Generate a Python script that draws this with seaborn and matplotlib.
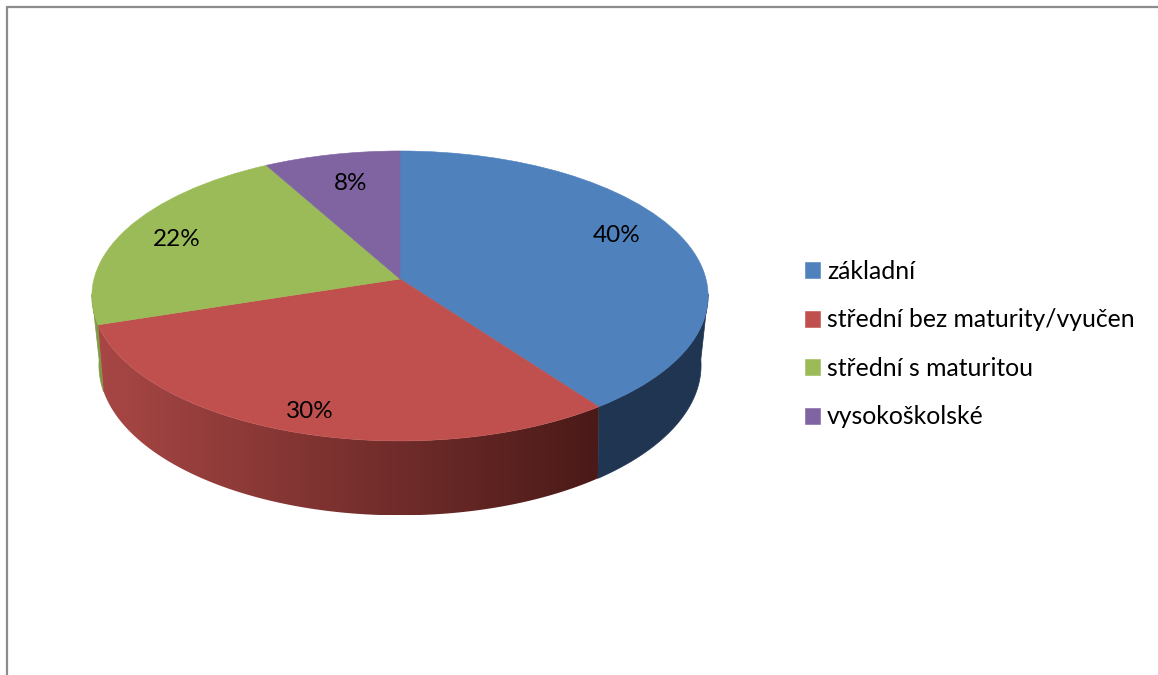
import numpy as np
import matplotlib
matplotlib.use("Agg")
import matplotlib.pyplot as plt
from matplotlib.patches import Polygon
from matplotlib.transforms import Transform
from matplotlib.colors import to_rgb
import seaborn as sns

categories = ["základní", "střední bez maturity/vyučen", "střední s maturitou", "vysokoškolské"]
shares = [40, 30, 22, 8]
colors = ["#4F81BD", "#C0504D", "#9BBB59", "#8064A2"]
wall_right = ["#1F3552", "#4A1A18", "#7F9A45", "#5F4A7A"]
wall_left = ["#1F3552", "#A84745", "#7F9A45", "#5F4A7A"]
label_xy = [(617, 236), (310, 412), (177, 240), (351, 184)]

sns.set_theme(style="white")
plt.rcParams["font.family"] = ["Lato", "DejaVu Sans"]

W, H = 1158, 675
CX = 400.0


class TiltedDisc(Transform):
    """Perspective view of the unit circle as a flat disc, in pixel coordinates."""
    input_dims = output_dims = 2

    def __init__(self, half_width, half_height, apex_y, tilt):
        super().__init__()
        self.d, self.a, self.y0, self.c = half_width, half_height, apex_y, tilt

    def transform_non_affine(self, xy):
        xy = np.asarray(xy, float)
        den = 1 + self.c * xy[:, 1]
        return np.column_stack([CX + self.d * xy[:, 0] / den,
                                self.y0 - self.a * xy[:, 1] / den])


top = TiltedDisc(306, 143, 279, 0.117)
bottom = TiltedDisc(298, 147, 344, 0.142)

fig = plt.figure(figsize=(W / 100, H / 100), dpi=100, facecolor="white")
ax = fig.add_axes([0, 0, 1, 1])

palette = sns.color_palette(colors)
wedges, _ = ax.pie(shares, colors=palette, startangle=90, counterclock=False)
ax.set_aspect("auto")
ax.axis("off")

for w, col in zip(wedges, palette):
    w.set_transform(top + ax.transData)
    w.set_clip_on(False)
    w.set_zorder(5)
    w.set_edgecolor(col)
    w.set_linewidth(0.4)

# side walls, built from the same shares; only the part facing the viewer
edges = np.cumsum([0] + shares) / sum(shares) * 2 * np.pi
for i in range(len(shares)):
    th = np.linspace(edges[i], edges[i + 1], 181)
    th = th[np.cos(th) < -0.1]
    if len(th) < 2:
        continue
    rim = np.column_stack([np.sin(th), np.cos(th)])
    outline = np.vstack([top.transform(rim), bottom.transform(rim)[::-1]])
    c_left, c_right = np.array(to_rgb(wall_left[i])), np.array(to_rgb(wall_right[i]))
    z = 2 + (i == 1)
    if wall_left[i] == wall_right[i]:
        ax.add_patch(Polygon(outline, closed=True, facecolor=c_left, edgecolor=c_left,
                             lw=0.5, zorder=z))
    else:
        x0, x1 = outline[:, 0].min(), outline[:, 0].max()
        ramp = np.linspace(0, 1, 256)[None, :, None]
        grad = c_left[None, None, :] + (c_right - c_left)[None, None, :] * ramp
        im = ax.imshow(grad, extent=[x0, x1, outline[:, 1].max(), outline[:, 1].min()],
                       aspect="auto", interpolation="bilinear", zorder=z)
        clip = Polygon(outline, closed=True, transform=ax.transData, facecolor="none", lw=0)
        ax.add_patch(clip)
        im.set_clip_path(clip)

ax.set_aspect("auto")
ax.set_xlim(0, W)
ax.set_ylim(H, 0)

# percentage labels
for v, (x, y) in zip(shares, label_xy):
    ax.text(x, y, f"{v}%", ha="center", va="center", fontsize=17.5, color="black", zorder=6)

# chart frame: only left and top remain in the crop
ax.plot([7, 7, W], [H, 7, 7], color="#8C8C8C", lw=1.6, zorder=1, solid_joinstyle="miter")

leg = ax.legend(wedges, categories, loc="upper left", bbox_to_anchor=(805 / W, 1 - 260 / H),
                bbox_transform=fig.transFigure, frameon=False, fontsize=17.8,
                handlelength=0.62, handleheight=0.62, handletextpad=0.27,
                labelspacing=1.03, borderpad=0, borderaxespad=0)
for t in leg.get_texts():
    t.set_color("black")

fig.savefig("out.png", dpi=100)
